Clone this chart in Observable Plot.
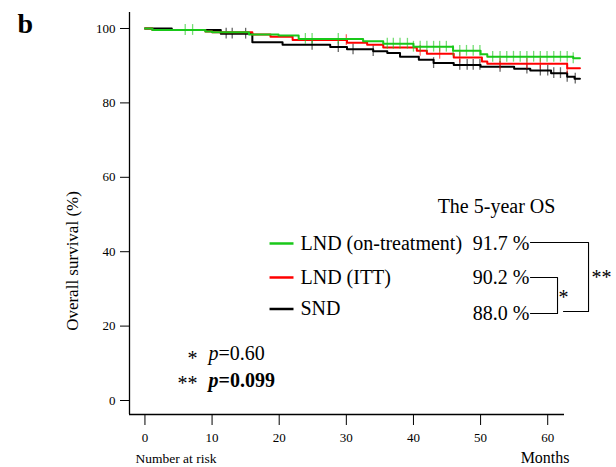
<!DOCTYPE html>
<html><head><meta charset="utf-8">
<script src="https://cdn.jsdelivr.net/npm/d3@7"></script>
<script src="https://cdn.jsdelivr.net/npm/@observablehq/plot@0.6"></script>
<style>
body{margin:0;background:#fff}
#chart{width:616px;height:467px}
#chart svg, #chart svg text{font-family:"Liberation Serif","Times New Roman",serif !important}
</style>
</head><body><div id="chart"></div>
<script>
// ---- data ----
const groups = ["LND (on-treatment)", "LND (ITT)", "SND"];
const fiveYearOS = ["91.7 %", "90.2 %", "88.0 %"];
const xTicks = [0, 10, 20, 30, 40, 50, 60];
const yTicks = [0, 20, 40, 60, 80, 100];
const followEnd = 64.8;

const greenT = [0, 1.1, 9.0, 10.0, 15.5, 19.9, 22.9, 32.5, 35.5, 40.0, 45.9, 50.0, 51.0, 63.8];
const greenS = [100, 99.6, 99.2, 99.0, 98.4, 98.1, 97.2, 96.6, 95.9, 95.1, 94.0, 93.1, 92.4, 92.0];
const redT = [0, 1.1, 9.0, 10.0, 16.0, 18.7, 22.0, 30.1, 33.1, 35.5, 40.5, 42.0, 46.0, 50.2, 51.0, 62.9];
const redS = [100, 99.6, 99.2, 99.0, 98.4, 97.8, 96.9, 96.2, 95.6, 94.9, 94.0, 93.2, 92.2, 91.1, 90.5, 89.3];
const blackT = [0, 4.0, 11.3, 16.0, 20.5, 27.6, 30.1, 34.0, 36.1, 38.0, 40.8, 43.0, 46.0, 50.0, 55.0, 57.4, 60.5, 62.9, 64.0];
const blackS = [100, 99.6, 98.6, 96.3, 95.6, 95.0, 94.4, 93.9, 93.4, 92.4, 91.6, 90.7, 90.2, 89.7, 89.2, 88.7, 88.0, 87.0, 86.5];

const greenC = [6.0, 7.1, 23.9, 24.9, 28.8, 36.1, 37.0, 38.0, 39.1, 40.0, 41.0, 42.0, 43.0, 43.9, 44.9, 45.9, 46.9, 47.9, 48.9, 49.9, 51.8, 52.9, 53.9, 54.9, 55.9, 56.9, 57.9, 58.9, 59.9, 60.9, 61.9, 62.9, 63.8];
const redC = [30.0, 41.0, 43.9, 46.9, 52.9, 56.9, 58.9, 62.9];
const blackC = [12.1, 13.0, 15.0, 24.9, 28.8, 31.0, 34.0, 43.0, 46.9, 48.0, 48.9, 49.9, 52.9, 56.9, 58.9, 60.0, 60.9, 61.9, 62.9, 64.1];

// ---- build tables ----
function curve(T, S) {
  const rows = T.map((t, i) => ({t, s: S[i]}));
  rows.push({t: followEnd, s: S[S.length - 1]});
  return rows;
}
function censor(C, T, S) {
  return C.map(c => {
    let k = 0;
    for (let i = 0; i < T.length; i++) if (T[i] <= c) k = i;
    return {t: c, s: S[k]};
  });
}
const colors = ["#19c819", "#ff0000", "#000000"];
const curves = [curve(greenT, greenS), curve(redT, redS), curve(blackT, blackS)];
const cens = [censor(greenC, greenT, greenS), censor(redC, redT, redS), censor(blackC, blackT, blackS)];

const xMin = -2.3, xMax = 62.5, yMin = -3.76, yMax = 104.3;
const legendY = [42.21, 33.07, 24.6];
const pctY = [42.21, 33.07, 23.39];
const serif = "Liberation Serif";

const order = [2, 1, 0];
const curveMarks = order.flatMap(i => [
  Plot.line(curves[i], {x: "t", y: "s", curve: "step-after", stroke: colors[i], strokeWidth: 2}),
  Plot.ruleX(cens[i], {x: "t", y1: d => d.s - 1.45, y2: d => d.s + 1.45, stroke: colors[i], strokeWidth: 1.3, strokeOpacity: 0.6})
]);
const T = (opts) => ({fontFamily: serif, lineAnchor: "middle", text: d => d, ...opts});

const plot = Plot.plot({
  width: 616, height: 467,
  marginLeft: 129, marginRight: 52, marginTop: 12, marginBottom: 53,
  x: {domain: [xMin, xMax]},
  y: {domain: [yMin, yMax]},
  style: {fontFamily: serif, fontSize: "13px", background: "white", color: "black", overflow: "visible"},
  marks: [
    Plot.axisX({ticks: xTicks, tickSize: 11, tickPadding: 7, label: null, fontSize: 13, fontFamily: serif}),
    Plot.axisY({ticks: yTicks, tickSize: 9, tickPadding: 5, label: null, fontSize: 13, fontFamily: serif}),
    Plot.ruleX([xMin], {y1: yMin, y2: yMax, strokeWidth: 1.3}),
    Plot.ruleY([yMin], {x1: xMin, x2: xMax, strokeWidth: 1.3}),
    ...curveMarks,
    // legend
    Plot.link(groups, {x1: 18.56, x2: 22.13, y1: (d, i) => legendY[i], y2: (d, i) => legendY[i], stroke: (d, i) => colors[i], strokeWidth: 2.5}),
    Plot.text(groups, T({x: 23.17, y: (d, i) => legendY[i], textAnchor: "start", fontSize: 20})),
    Plot.text(fiveYearOS, T({x: 57.29, y: (d, i) => pctY[i], textAnchor: "end", fontSize: 20})),
    Plot.text(["The 5-year OS"], T({x: 52.37, y: 52.15, textAnchor: "middle", fontSize: 20})),
    // brackets
    Plot.line([[57.43, 42.48], [66.08, 42.48], [66.08, 23.93], [62.35, 23.93]], {strokeWidth: 1.1}),
    Plot.line([[57.43, 33.07], [61.46, 33.07], [61.46, 23.39], [57.43, 23.39]], {strokeWidth: 1.1}),
    Plot.text(["*"], T({x: 62.35, y: 27.69, textAnchor: "middle", fontSize: 20})),
    Plot.text(["**"], T({x: 68.01, y: 33.07, textAnchor: "middle", fontSize: 20})),
    // p values
    Plot.text(["*", "**"], T({x: 7.83, y: (d, i) => [11.29, 4.57][i], textAnchor: "end", fontSize: 20})),
    Plot.text(["p"], T({x: 9.47, y: 12.64, textAnchor: "start", fontSize: 20, fontStyle: "italic"})),
    Plot.text(["=0.60"], T({x: 10.96, y: 12.64, textAnchor: "start", fontSize: 20})),
    Plot.text(["p"], T({x: 9.47, y: 5.38, textAnchor: "start", fontSize: 20, fontStyle: "italic", fontWeight: "bold"})),
    Plot.text(["=0.099"], T({x: 10.96, y: 5.38, textAnchor: "start", fontSize: 20, fontWeight: "bold"})),
    // axis titles and panel letter
    Plot.text(["Overall survival (%)"], T({x: -10.79, y: 37.5, rotate: -90, textAnchor: "middle", fontSize: 17})),
    Plot.text(["Number at risk"], T({x: -1.41, y: -15.59, textAnchor: "start", fontSize: 13.5})),
    Plot.text(["Months"], T({x: 63.25, y: -15.32, textAnchor: "end", fontSize: 16})),
    Plot.text(["b"], T({x: -18.98, y: 101.08, textAnchor: "start", fontSize: 28, fontWeight: "bold"}))
  ]
});
document.getElementById("chart").appendChild(plot);
</script>
</body></html>
